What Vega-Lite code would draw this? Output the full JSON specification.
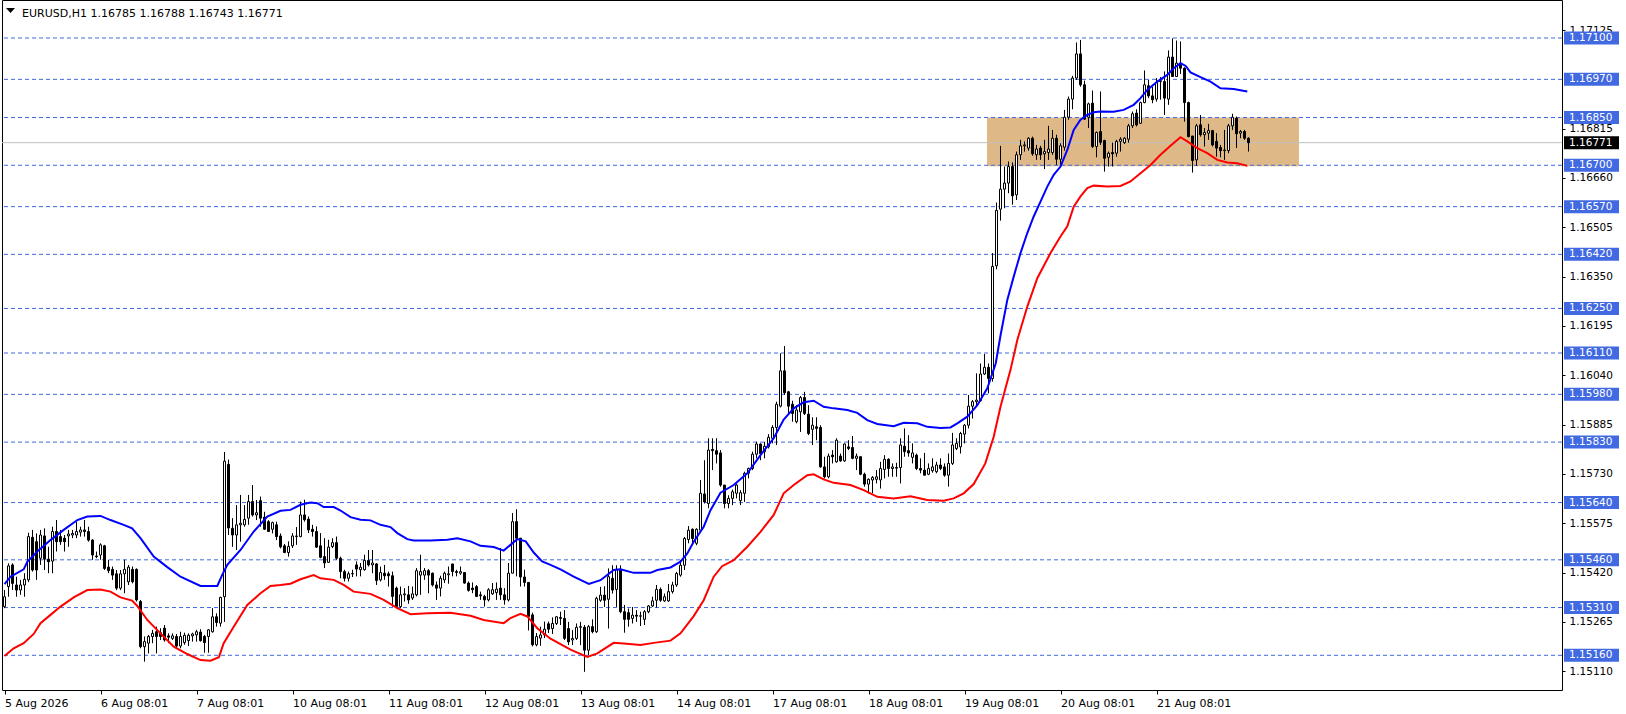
{
"$schema": "https://vega.github.io/schema/vega-lite/v6.json",
"width": 1560, "height": 690,
"autosize": {"type": "none"},
"padding": {"left": 2, "top": 0, "right": 64, "bottom": 24},
"background": "white",
"config": {"view": {"stroke": "#000000", "strokeWidth": 1}, "font": "DejaVu Sans", "scale": {"continuousPadding": 0}},
"datasets": {
"candles": [
{"i":0,"o":1.15313,"h":1.15365,"l":1.15308,"c":1.15344},
{"i":1,"o":1.15376,"h":1.15449,"l":1.15344,"c":1.15441},
{"i":2,"o":1.15444,"h":1.15449,"l":1.15365,"c":1.15386},
{"i":3,"o":1.15381,"h":1.15407,"l":1.15344,"c":1.15365},
{"i":4,"o":1.15365,"h":1.15397,"l":1.1535,"c":1.15381},
{"i":5,"o":1.15381,"h":1.15418,"l":1.15344,"c":1.15399},
{"i":6,"o":1.15397,"h":1.15545,"l":1.1539,"c":1.15533},
{"i":7,"o":1.15531,"h":1.15554,"l":1.15423,"c":1.15428},
{"i":8,"o":1.15517,"h":1.15543,"l":1.15397,"c":1.15428},
{"i":9,"o":1.15465,"h":1.15554,"l":1.15444,"c":1.15538},
{"i":10,"o":1.15535,"h":1.15559,"l":1.15428,"c":1.15462},
{"i":11,"o":1.15462,"h":1.15501,"l":1.15418,"c":1.15454},
{"i":12,"o":1.15456,"h":1.15564,"l":1.15418,"c":1.15549},
{"i":13,"o":1.15549,"h":1.15585,"l":1.15486,"c":1.15517},
{"i":14,"o":1.15533,"h":1.15554,"l":1.15507,"c":1.15517},
{"i":15,"o":1.15528,"h":1.15538,"l":1.15486,"c":1.15517},
{"i":16,"o":1.15535,"h":1.15554,"l":1.15501,"c":1.15541},
{"i":17,"o":1.15538,"h":1.15554,"l":1.15528,"c":1.15543},
{"i":18,"o":1.15538,"h":1.1558,"l":1.15528,"c":1.15549},
{"i":19,"o":1.15547,"h":1.15564,"l":1.15533,"c":1.15554},
{"i":20,"o":1.15554,"h":1.15585,"l":1.15533,"c":1.15549},
{"i":21,"o":1.15549,"h":1.15564,"l":1.15517,"c":1.15522},
{"i":22,"o":1.15522,"h":1.15525,"l":1.1546,"c":1.15475},
{"i":23,"o":1.15472,"h":1.15486,"l":1.15465,"c":1.1547},
{"i":24,"o":1.15475,"h":1.15512,"l":1.1546,"c":1.15507},
{"i":25,"o":1.15504,"h":1.15507,"l":1.15428,"c":1.15433},
{"i":26,"o":1.15437,"h":1.1546,"l":1.15418,"c":1.15426},
{"i":27,"o":1.1543,"h":1.15439,"l":1.15397,"c":1.15412},
{"i":28,"o":1.15416,"h":1.15428,"l":1.15365,"c":1.15371},
{"i":29,"o":1.15371,"h":1.15428,"l":1.15365,"c":1.15416},
{"i":30,"o":1.15416,"h":1.1546,"l":1.15355,"c":1.1543},
{"i":31,"o":1.15391,"h":1.15444,"l":1.15381,"c":1.15437},
{"i":32,"o":1.1543,"h":1.15439,"l":1.15386,"c":1.15391},
{"i":33,"o":1.1543,"h":1.15433,"l":1.15329,"c":1.15334},
{"i":34,"o":1.15329,"h":1.15334,"l":1.15182,"c":1.15187},
{"i":35,"o":1.15187,"h":1.15219,"l":1.1514,"c":1.15203},
{"i":36,"o":1.15198,"h":1.15224,"l":1.15166,"c":1.15219},
{"i":37,"o":1.15219,"h":1.1524,"l":1.15198,"c":1.15229},
{"i":38,"o":1.15234,"h":1.1525,"l":1.15166,"c":1.15219},
{"i":39,"o":1.15231,"h":1.15245,"l":1.15208,"c":1.15219},
{"i":40,"o":1.15245,"h":1.15255,"l":1.15203,"c":1.15208},
{"i":41,"o":1.15221,"h":1.15229,"l":1.15198,"c":1.15217},
{"i":42,"o":1.15213,"h":1.15229,"l":1.15208,"c":1.15221},
{"i":43,"o":1.15219,"h":1.15227,"l":1.15182,"c":1.15189},
{"i":44,"o":1.15189,"h":1.15234,"l":1.15182,"c":1.15219},
{"i":45,"o":1.152,"h":1.15231,"l":1.15193,"c":1.15223},
{"i":46,"o":1.15206,"h":1.15229,"l":1.15189,"c":1.15223},
{"i":47,"o":1.15221,"h":1.15231,"l":1.15203,"c":1.15227},
{"i":48,"o":1.15224,"h":1.1524,"l":1.15203,"c":1.15234},
{"i":49,"o":1.15233,"h":1.15242,"l":1.15203,"c":1.15206},
{"i":50,"o":1.15219,"h":1.15224,"l":1.15168,"c":1.152},
{"i":51,"o":1.15219,"h":1.15242,"l":1.15168,"c":1.1524},
{"i":52,"o":1.15234,"h":1.15308,"l":1.15231,"c":1.15281},
{"i":53,"o":1.15281,"h":1.15292,"l":1.1525,"c":1.15263},
{"i":54,"o":1.15261,"h":1.15344,"l":1.1525,"c":1.15342},
{"i":55,"o":1.15344,"h":1.15799,"l":1.15265,"c":1.1577},
{"i":56,"o":1.1576,"h":1.15775,"l":1.15538,"c":1.1556},
{"i":57,"o":1.15559,"h":1.15591,"l":1.15501,"c":1.15538},
{"i":58,"o":1.15538,"h":1.15632,"l":1.15491,"c":1.1557},
{"i":59,"o":1.1557,"h":1.15664,"l":1.15517,"c":1.15575},
{"i":60,"o":1.1557,"h":1.15632,"l":1.15564,"c":1.15587},
{"i":61,"o":1.15591,"h":1.15664,"l":1.1557,"c":1.15643},
{"i":62,"o":1.15643,"h":1.15695,"l":1.15596,"c":1.15601},
{"i":63,"o":1.15601,"h":1.15648,"l":1.15585,"c":1.15608},
{"i":64,"o":1.15646,"h":1.15659,"l":1.15564,"c":1.15591},
{"i":65,"o":1.15594,"h":1.15611,"l":1.15554,"c":1.15556},
{"i":66,"o":1.1558,"h":1.15585,"l":1.15549,"c":1.15549},
{"i":67,"o":1.15556,"h":1.1558,"l":1.15543,"c":1.15577},
{"i":68,"o":1.1557,"h":1.1558,"l":1.15522,"c":1.15533},
{"i":69,"o":1.15535,"h":1.15543,"l":1.15496,"c":1.15501},
{"i":70,"o":1.15504,"h":1.1551,"l":1.15481,"c":1.15483},
{"i":71,"o":1.15483,"h":1.15518,"l":1.1547,"c":1.15502},
{"i":72,"o":1.15504,"h":1.15544,"l":1.15497,"c":1.15535},
{"i":73,"o":1.15533,"h":1.15563,"l":1.15507,"c":1.15535},
{"i":74,"o":1.15533,"h":1.15643,"l":1.15531,"c":1.15601},
{"i":75,"o":1.15601,"h":1.15649,"l":1.1558,"c":1.15586},
{"i":76,"o":1.15588,"h":1.15596,"l":1.15544,"c":1.15554},
{"i":77,"o":1.15556,"h":1.1557,"l":1.15533,"c":1.15549},
{"i":78,"o":1.15549,"h":1.15565,"l":1.15497,"c":1.155},
{"i":79,"o":1.15504,"h":1.15544,"l":1.15465,"c":1.15468},
{"i":80,"o":1.1547,"h":1.15528,"l":1.15434,"c":1.1545},
{"i":81,"o":1.15452,"h":1.15523,"l":1.1545,"c":1.155},
{"i":82,"o":1.15502,"h":1.15528,"l":1.15497,"c":1.15514},
{"i":83,"o":1.15514,"h":1.15533,"l":1.1546,"c":1.15465},
{"i":84,"o":1.15465,"h":1.1547,"l":1.15402,"c":1.15423},
{"i":85,"o":1.15423,"h":1.15429,"l":1.15392,"c":1.15402},
{"i":86,"o":1.15402,"h":1.15423,"l":1.15392,"c":1.15416},
{"i":87,"o":1.15416,"h":1.15429,"l":1.15406,"c":1.15417},
{"i":88,"o":1.15444,"h":1.15455,"l":1.15408,"c":1.15431},
{"i":89,"o":1.15429,"h":1.1545,"l":1.15408,"c":1.15437},
{"i":90,"o":1.15429,"h":1.15476,"l":1.15426,"c":1.15458},
{"i":91,"o":1.15458,"h":1.15491,"l":1.15439,"c":1.15444},
{"i":92,"o":1.15444,"h":1.15491,"l":1.15418,"c":1.1545},
{"i":93,"o":1.15447,"h":1.1545,"l":1.15381,"c":1.15395},
{"i":94,"o":1.15397,"h":1.15439,"l":1.15392,"c":1.1542},
{"i":95,"o":1.15418,"h":1.15444,"l":1.15397,"c":1.1541},
{"i":96,"o":1.15416,"h":1.15423,"l":1.15376,"c":1.1541},
{"i":97,"o":1.1541,"h":1.15423,"l":1.15313,"c":1.15345},
{"i":98,"o":1.15371,"h":1.15376,"l":1.15308,"c":1.15313},
{"i":99,"o":1.15313,"h":1.15376,"l":1.15308,"c":1.1535},
{"i":100,"o":1.1535,"h":1.15371,"l":1.15329,"c":1.15353},
{"i":101,"o":1.1535,"h":1.15378,"l":1.15322,"c":1.15334},
{"i":102,"o":1.1534,"h":1.15376,"l":1.15334,"c":1.15353},
{"i":103,"o":1.1535,"h":1.15434,"l":1.15345,"c":1.15426},
{"i":104,"o":1.15412,"h":1.15476,"l":1.1535,"c":1.15423},
{"i":105,"o":1.15412,"h":1.15434,"l":1.15397,"c":1.15426},
{"i":106,"o":1.15426,"h":1.15431,"l":1.15355,"c":1.15412},
{"i":107,"o":1.15418,"h":1.1542,"l":1.15376,"c":1.15381},
{"i":108,"o":1.15381,"h":1.15392,"l":1.15334,"c":1.15371},
{"i":109,"o":1.15371,"h":1.1541,"l":1.15345,"c":1.15402},
{"i":110,"o":1.15397,"h":1.15423,"l":1.15387,"c":1.15418},
{"i":111,"o":1.15413,"h":1.15439,"l":1.15385,"c":1.15416},
{"i":112,"o":1.15447,"h":1.15447,"l":1.15408,"c":1.15423},
{"i":113,"o":1.15423,"h":1.15429,"l":1.15408,"c":1.1542},
{"i":114,"o":1.15418,"h":1.15439,"l":1.15413,"c":1.15423},
{"i":115,"o":1.1542,"h":1.1542,"l":1.15385,"c":1.15387},
{"i":116,"o":1.15387,"h":1.15392,"l":1.1536,"c":1.15364},
{"i":117,"o":1.15371,"h":1.15389,"l":1.15355,"c":1.15366},
{"i":118,"o":1.15376,"h":1.15381,"l":1.15343,"c":1.15345},
{"i":119,"o":1.1535,"h":1.1536,"l":1.15334,"c":1.15347},
{"i":120,"o":1.15345,"h":1.1535,"l":1.15313,"c":1.15334},
{"i":121,"o":1.15334,"h":1.15371,"l":1.15329,"c":1.15366},
{"i":122,"o":1.15353,"h":1.15387,"l":1.1535,"c":1.15366},
{"i":123,"o":1.15357,"h":1.15389,"l":1.15334,"c":1.15368},
{"i":124,"o":1.15371,"h":1.15497,"l":1.15334,"c":1.1535},
{"i":125,"o":1.1535,"h":1.15371,"l":1.15319,"c":1.15334},
{"i":126,"o":1.15334,"h":1.1545,"l":1.15329,"c":1.15418},
{"i":127,"o":1.15418,"h":1.15607,"l":1.15418,"c":1.1558},
{"i":128,"o":1.1558,"h":1.15619,"l":1.15408,"c":1.15528},
{"i":129,"o":1.15528,"h":1.15528,"l":1.15376,"c":1.15406},
{"i":130,"o":1.15406,"h":1.15429,"l":1.15376,"c":1.15389},
{"i":131,"o":1.15389,"h":1.15389,"l":1.15238,"c":1.15282},
{"i":132,"o":1.15287,"h":1.15294,"l":1.15188,"c":1.15193},
{"i":133,"o":1.15193,"h":1.1523,"l":1.15188,"c":1.15219},
{"i":134,"o":1.15214,"h":1.1525,"l":1.1519,"c":1.15224},
{"i":135,"o":1.15224,"h":1.15266,"l":1.15214,"c":1.15242},
{"i":136,"o":1.15259,"h":1.15266,"l":1.1523,"c":1.15242},
{"i":137,"o":1.15244,"h":1.15279,"l":1.15227,"c":1.1526},
{"i":138,"o":1.1526,"h":1.15283,"l":1.15255,"c":1.15281},
{"i":139,"o":1.15279,"h":1.15297,"l":1.15255,"c":1.15276},
{"i":140,"o":1.15276,"h":1.15302,"l":1.15208,"c":1.15213},
{"i":141,"o":1.15244,"h":1.15265,"l":1.15192,"c":1.15202},
{"i":142,"o":1.15208,"h":1.15239,"l":1.15192,"c":1.15213},
{"i":143,"o":1.15213,"h":1.1526,"l":1.15208,"c":1.15248},
{"i":144,"o":1.15248,"h":1.15265,"l":1.15192,"c":1.1525},
{"i":145,"o":1.15248,"h":1.15255,"l":1.15108,"c":1.15176},
{"i":146,"o":1.15176,"h":1.15255,"l":1.15161,"c":1.1525},
{"i":147,"o":1.1525,"h":1.15273,"l":1.15229,"c":1.15234},
{"i":148,"o":1.15234,"h":1.15344,"l":1.1523,"c":1.15339},
{"i":149,"o":1.15333,"h":1.15375,"l":1.15328,"c":1.15349},
{"i":150,"o":1.15349,"h":1.15377,"l":1.15312,"c":1.15333},
{"i":151,"o":1.15336,"h":1.15433,"l":1.15244,"c":1.15407},
{"i":152,"o":1.15402,"h":1.15443,"l":1.15354,"c":1.15365},
{"i":153,"o":1.15367,"h":1.15443,"l":1.15312,"c":1.1543},
{"i":154,"o":1.1543,"h":1.15443,"l":1.15292,"c":1.15297},
{"i":155,"o":1.15297,"h":1.15318,"l":1.15231,"c":1.15273},
{"i":156,"o":1.15294,"h":1.15307,"l":1.1525,"c":1.15273},
{"i":157,"o":1.15276,"h":1.15312,"l":1.1526,"c":1.15286},
{"i":158,"o":1.15286,"h":1.15302,"l":1.15265,"c":1.15283},
{"i":159,"o":1.15283,"h":1.15297,"l":1.15252,"c":1.15284},
{"i":160,"o":1.15273,"h":1.15302,"l":1.15255,"c":1.15297},
{"i":161,"o":1.15297,"h":1.15318,"l":1.15292,"c":1.15315},
{"i":162,"o":1.15315,"h":1.15344,"l":1.15312,"c":1.15331},
{"i":163,"o":1.15333,"h":1.15381,"l":1.1531,"c":1.15367},
{"i":164,"o":1.15367,"h":1.15373,"l":1.15328,"c":1.15333},
{"i":165,"o":1.15331,"h":1.15354,"l":1.15328,"c":1.15344},
{"i":166,"o":1.15331,"h":1.15384,"l":1.15328,"c":1.1536},
{"i":167,"o":1.1536,"h":1.15391,"l":1.15354,"c":1.15381},
{"i":168,"o":1.15381,"h":1.15422,"l":1.15375,"c":1.15417},
{"i":169,"o":1.15412,"h":1.15459,"l":1.15407,"c":1.15443},
{"i":170,"o":1.15443,"h":1.15532,"l":1.15428,"c":1.15527},
{"i":171,"o":1.15524,"h":1.15566,"l":1.15512,"c":1.15553},
{"i":172,"o":1.15556,"h":1.15559,"l":1.15512,"c":1.15527},
{"i":173,"o":1.15512,"h":1.15559,"l":1.15506,"c":1.15556},
{"i":174,"o":1.15553,"h":1.15711,"l":1.15548,"c":1.15669},
{"i":175,"o":1.15667,"h":1.15773,"l":1.15637,"c":1.15642},
{"i":176,"o":1.15637,"h":1.15842,"l":1.15622,"c":1.15805},
{"i":177,"o":1.15807,"h":1.15842,"l":1.15742,"c":1.15803},
{"i":178,"o":1.15803,"h":1.15842,"l":1.15763,"c":1.15792},
{"i":179,"o":1.15796,"h":1.15805,"l":1.1569,"c":1.15695},
{"i":180,"o":1.15695,"h":1.15695,"l":1.15622,"c":1.15637},
{"i":181,"o":1.15637,"h":1.15663,"l":1.15622,"c":1.15653},
{"i":182,"o":1.15653,"h":1.15681,"l":1.15632,"c":1.15674},
{"i":183,"o":1.15669,"h":1.157,"l":1.15653,"c":1.15695},
{"i":184,"o":1.15646,"h":1.15679,"l":1.15632,"c":1.15671},
{"i":185,"o":1.15669,"h":1.15737,"l":1.15642,"c":1.15732},
{"i":186,"o":1.15732,"h":1.1575,"l":1.15716,"c":1.15747},
{"i":187,"o":1.15747,"h":1.158,"l":1.15742,"c":1.15792},
{"i":188,"o":1.15792,"h":1.15831,"l":1.15779,"c":1.15824},
{"i":189,"o":1.15824,"h":1.15826,"l":1.15773,"c":1.15794},
{"i":190,"o":1.158,"h":1.15831,"l":1.15779,"c":1.15817},
{"i":191,"o":1.15815,"h":1.15855,"l":1.1581,"c":1.15845},
{"i":192,"o":1.15842,"h":1.15883,"l":1.15826,"c":1.15876},
{"i":193,"o":1.15876,"h":1.15957,"l":1.15821,"c":1.15949},
{"i":194,"o":1.15943,"h":1.16109,"l":1.15939,"c":1.16054},
{"i":195,"o":1.16054,"h":1.16132,"l":1.15978,"c":1.15985},
{"i":196,"o":1.15988,"h":1.15991,"l":1.15918,"c":1.15943},
{"i":197,"o":1.15949,"h":1.1596,"l":1.15894,"c":1.1592},
{"i":198,"o":1.15894,"h":1.15946,"l":1.15889,"c":1.15931},
{"i":199,"o":1.15925,"h":1.15975,"l":1.15862,"c":1.1597},
{"i":200,"o":1.1597,"h":1.15988,"l":1.15915,"c":1.1592},
{"i":201,"o":1.15918,"h":1.15946,"l":1.15852,"c":1.15857},
{"i":202,"o":1.1587,"h":1.15908,"l":1.15821,"c":1.15883},
{"i":203,"o":1.15878,"h":1.15908,"l":1.15836,"c":1.15873},
{"i":204,"o":1.15876,"h":1.15883,"l":1.1575,"c":1.15752},
{"i":205,"o":1.15752,"h":1.15784,"l":1.15716,"c":1.15721},
{"i":206,"o":1.15721,"h":1.15794,"l":1.15716,"c":1.15786},
{"i":207,"o":1.15789,"h":1.15805,"l":1.15763,"c":1.15784},
{"i":208,"o":1.15768,"h":1.15842,"l":1.15765,"c":1.15836},
{"i":209,"o":1.15786,"h":1.15794,"l":1.15768,"c":1.15771},
{"i":210,"o":1.15771,"h":1.15826,"l":1.15768,"c":1.15824},
{"i":211,"o":1.15815,"h":1.15836,"l":1.15805,"c":1.1581},
{"i":212,"o":1.15813,"h":1.15849,"l":1.15776,"c":1.15779},
{"i":213,"o":1.15779,"h":1.15794,"l":1.15742,"c":1.15786},
{"i":214,"o":1.15784,"h":1.15786,"l":1.15726,"c":1.15729},
{"i":215,"o":1.15729,"h":1.15734,"l":1.1569,"c":1.15698},
{"i":216,"o":1.15698,"h":1.15716,"l":1.15669,"c":1.15713},
{"i":217,"o":1.15711,"h":1.15723,"l":1.15669,"c":1.15719},
{"i":218,"o":1.15713,"h":1.15742,"l":1.157,"c":1.15721},
{"i":219,"o":1.15711,"h":1.15768,"l":1.15684,"c":1.15747},
{"i":220,"o":1.15744,"h":1.15789,"l":1.15716,"c":1.15776},
{"i":221,"o":1.15776,"h":1.15779,"l":1.15721,"c":1.15747},
{"i":222,"o":1.15747,"h":1.15763,"l":1.15721,"c":1.15752},
{"i":223,"o":1.15748,"h":1.15765,"l":1.15721,"c":1.1575},
{"i":224,"o":1.1575,"h":1.15842,"l":1.157,"c":1.15821},
{"i":225,"o":1.15817,"h":1.15873,"l":1.15784,"c":1.158},
{"i":226,"o":1.15803,"h":1.15852,"l":1.15784,"c":1.15796},
{"i":227,"o":1.15782,"h":1.15826,"l":1.15763,"c":1.15796},
{"i":228,"o":1.15789,"h":1.15794,"l":1.15742,"c":1.15747},
{"i":229,"o":1.15747,"h":1.15779,"l":1.15732,"c":1.15742},
{"i":230,"o":1.15742,"h":1.15796,"l":1.15726,"c":1.15726},
{"i":231,"o":1.15729,"h":1.15763,"l":1.15726,"c":1.15747},
{"i":232,"o":1.1574,"h":1.15779,"l":1.15734,"c":1.15752},
{"i":233,"o":1.15737,"h":1.15768,"l":1.15732,"c":1.15758},
{"i":234,"o":1.15758,"h":1.15779,"l":1.15742,"c":1.15747},
{"i":235,"o":1.15752,"h":1.15763,"l":1.15721,"c":1.15726},
{"i":236,"o":1.15726,"h":1.15794,"l":1.1569,"c":1.15763},
{"i":237,"o":1.15763,"h":1.15859,"l":1.15758,"c":1.15821},
{"i":238,"o":1.1581,"h":1.15842,"l":1.15805,"c":1.15826},
{"i":239,"o":1.15815,"h":1.15862,"l":1.15794,"c":1.15857},
{"i":240,"o":1.15855,"h":1.15887,"l":1.15826,"c":1.15883},
{"i":241,"o":1.15883,"h":1.15978,"l":1.15873,"c":1.15943},
{"i":242,"o":1.15943,"h":1.15962,"l":1.15904,"c":1.15957},
{"i":243,"o":1.15957,"h":1.16046,"l":1.15946,"c":1.15962},
{"i":244,"o":1.1596,"h":1.16077,"l":1.15957,"c":1.16044},
{"i":245,"o":1.16044,"h":1.16107,"l":1.16041,"c":1.16065},
{"i":246,"o":1.16065,"h":1.16077,"l":1.15983,"c":1.1603},
{"i":247,"o":1.1603,"h":1.16424,"l":1.1602,"c":1.16382},
{"i":248,"o":1.16384,"h":1.16583,"l":1.16373,"c":1.16558},
{"i":249,"o":1.16562,"h":1.16761,"l":1.16526,"c":1.16625},
{"i":250,"o":1.16625,"h":1.16696,"l":1.16565,"c":1.16644},
{"i":251,"o":1.16644,"h":1.16712,"l":1.16612,"c":1.16696},
{"i":252,"o":1.16696,"h":1.16709,"l":1.16576,"c":1.16604},
{"i":253,"o":1.16607,"h":1.16743,"l":1.16591,"c":1.16733},
{"i":254,"o":1.16733,"h":1.1678,"l":1.16717,"c":1.16761},
{"i":255,"o":1.16761,"h":1.16775,"l":1.16743,"c":1.16764},
{"i":256,"o":1.16754,"h":1.16788,"l":1.16746,"c":1.16785},
{"i":257,"o":1.16785,"h":1.1679,"l":1.1673,"c":1.16736},
{"i":258,"o":1.16733,"h":1.16764,"l":1.16717,"c":1.16751},
{"i":259,"o":1.16754,"h":1.16761,"l":1.16717,"c":1.16733},
{"i":260,"o":1.16736,"h":1.1678,"l":1.16688,"c":1.16743},
{"i":261,"o":1.1674,"h":1.16824,"l":1.16717,"c":1.16751},
{"i":262,"o":1.1674,"h":1.16811,"l":1.16733,"c":1.16785},
{"i":263,"o":1.16785,"h":1.16796,"l":1.16701,"c":1.16719},
{"i":264,"o":1.16719,"h":1.16769,"l":1.16698,"c":1.16761},
{"i":265,"o":1.16757,"h":1.16874,"l":1.16746,"c":1.16851},
{"i":266,"o":1.16851,"h":1.16916,"l":1.16843,"c":1.16908},
{"i":267,"o":1.16908,"h":1.16981,"l":1.16876,"c":1.16974},
{"i":268,"o":1.16974,"h":1.17086,"l":1.16968,"c":1.1705},
{"i":269,"o":1.1705,"h":1.17094,"l":1.16947,"c":1.16953},
{"i":270,"o":1.16953,"h":1.16966,"l":1.16843,"c":1.16845},
{"i":271,"o":1.16851,"h":1.16897,"l":1.16817,"c":1.16893},
{"i":272,"o":1.16895,"h":1.16935,"l":1.16754,"c":1.16759},
{"i":273,"o":1.16759,"h":1.16806,"l":1.16725,"c":1.16803},
{"i":274,"o":1.16806,"h":1.16932,"l":1.16764,"c":1.16772},
{"i":275,"o":1.16778,"h":1.1678,"l":1.1668,"c":1.16722},
{"i":276,"o":1.16725,"h":1.16743,"l":1.16696,"c":1.16738},
{"i":277,"o":1.1674,"h":1.16771,"l":1.16696,"c":1.16736},
{"i":278,"o":1.16738,"h":1.1678,"l":1.16727,"c":1.16775},
{"i":279,"o":1.16775,"h":1.16788,"l":1.16743,"c":1.16782},
{"i":280,"o":1.16771,"h":1.16788,"l":1.16767,"c":1.16785},
{"i":281,"o":1.16782,"h":1.1683,"l":1.16771,"c":1.16824},
{"i":282,"o":1.16824,"h":1.16869,"l":1.16817,"c":1.16862},
{"i":283,"o":1.16864,"h":1.16876,"l":1.16822,"c":1.16827},
{"i":284,"o":1.16832,"h":1.169,"l":1.1683,"c":1.16897},
{"i":285,"o":1.16897,"h":1.16998,"l":1.16895,"c":1.16953},
{"i":286,"o":1.1695,"h":1.16968,"l":1.16911,"c":1.16918},
{"i":287,"o":1.16918,"h":1.16947,"l":1.16895,"c":1.16906},
{"i":288,"o":1.16908,"h":1.16974,"l":1.169,"c":1.1696},
{"i":289,"o":1.16963,"h":1.16977,"l":1.16906,"c":1.16966},
{"i":290,"o":1.16963,"h":1.16995,"l":1.16858,"c":1.16911},
{"i":291,"o":1.16908,"h":1.17061,"l":1.1689,"c":1.1704},
{"i":292,"o":1.1704,"h":1.17099,"l":1.16979,"c":1.16979},
{"i":293,"o":1.16979,"h":1.17092,"l":1.16979,"c":1.17021},
{"i":294,"o":1.17021,"h":1.17089,"l":1.16987,"c":1.17005},
{"i":295,"o":1.17005,"h":1.17008,"l":1.16837,"c":1.16897},
{"i":296,"o":1.16897,"h":1.169,"l":1.16788,"c":1.1679},
{"i":297,"o":1.16792,"h":1.16792,"l":1.16677,"c":1.16715},
{"i":298,"o":1.16717,"h":1.1683,"l":1.16698,"c":1.16824},
{"i":299,"o":1.16827,"h":1.16858,"l":1.1679,"c":1.16796},
{"i":300,"o":1.16796,"h":1.16817,"l":1.16759,"c":1.16803},
{"i":301,"o":1.16801,"h":1.1683,"l":1.1678,"c":1.16809},
{"i":302,"o":1.16809,"h":1.16811,"l":1.16759,"c":1.16764},
{"i":303,"o":1.16775,"h":1.16801,"l":1.16727,"c":1.16754},
{"i":304,"o":1.16756,"h":1.16764,"l":1.16725,"c":1.16746},
{"i":305,"o":1.16746,"h":1.16811,"l":1.16717,"c":1.16748},
{"i":306,"o":1.16746,"h":1.1683,"l":1.16738,"c":1.16824},
{"i":307,"o":1.16824,"h":1.16862,"l":1.16811,"c":1.16851},
{"i":308,"o":1.16848,"h":1.16853,"l":1.16754,"c":1.16799},
{"i":309,"o":1.16801,"h":1.16811,"l":1.16785,"c":1.16806},
{"i":310,"o":1.16806,"h":1.16811,"l":1.1678,"c":1.16785},
{"i":311,"o":1.16785,"h":1.16788,"l":1.16743,"c":1.16771}
],
"lines": [
{"i":0,"v":1.15384,"s":"upper"},{"i":1.5,"v":1.15407,"s":"upper"},{"i":4.8,"v":1.1543,"s":"upper"},{"i":5.7,"v":1.15454,"s":"upper"},{"i":8.2,"v":1.15486,"s":"upper"},{"i":11.5,"v":1.15522,"s":"upper"},{"i":14.8,"v":1.15554,"s":"upper"},{"i":18.2,"v":1.15585,"s":"upper"},{"i":20.7,"v":1.15596,"s":"upper"},{"i":24,"v":1.15598,"s":"upper"},{"i":26.5,"v":1.15585,"s":"upper"},{"i":29.8,"v":1.1557,"s":"upper"},{"i":31.9,"v":1.15559,"s":"upper"},{"i":34,"v":1.15528,"s":"upper"},{"i":37.3,"v":1.1547,"s":"upper"},{"i":40.7,"v":1.15437,"s":"upper"},{"i":44,"v":1.15407,"s":"upper"},{"i":49,"v":1.15378,"s":"upper"},{"i":53.2,"v":1.15378,"s":"upper"},{"i":54.4,"v":1.15412,"s":"upper"},{"i":55.7,"v":1.15444,"s":"upper"},{"i":59,"v":1.15491,"s":"upper"},{"i":62.3,"v":1.15549,"s":"upper"},{"i":65.7,"v":1.15596,"s":"upper"},{"i":69,"v":1.15614,"s":"upper"},{"i":71.5,"v":1.15617,"s":"upper"},{"i":74,"v":1.15633,"s":"upper"},{"i":76.5,"v":1.1564,"s":"upper"},{"i":78.2,"v":1.15638,"s":"upper"},{"i":79.8,"v":1.15626,"s":"upper"},{"i":82.3,"v":1.15626,"s":"upper"},{"i":84,"v":1.15615,"s":"upper"},{"i":86.5,"v":1.15594,"s":"upper"},{"i":89,"v":1.15586,"s":"upper"},{"i":91.5,"v":1.15584,"s":"upper"},{"i":94,"v":1.1557,"s":"upper"},{"i":96.5,"v":1.15563,"s":"upper"},{"i":98.2,"v":1.15544,"s":"upper"},{"i":100.7,"v":1.15525,"s":"upper"},{"i":102.3,"v":1.15521,"s":"upper"},{"i":106.5,"v":1.15521,"s":"upper"},{"i":110.7,"v":1.15523,"s":"upper"},{"i":113.2,"v":1.15528,"s":"upper"},{"i":116.5,"v":1.15518,"s":"upper"},{"i":119,"v":1.15504,"s":"upper"},{"i":122.3,"v":1.155,"s":"upper"},{"i":124.8,"v":1.15489,"s":"upper"},{"i":126.5,"v":1.15507,"s":"upper"},{"i":128.2,"v":1.15525,"s":"upper"},{"i":130.3,"v":1.15518,"s":"upper"},{"i":132.3,"v":1.15483,"s":"upper"},{"i":134.4,"v":1.15455,"s":"upper"},{"i":136.5,"v":1.15444,"s":"upper"},{"i":139,"v":1.1543,"s":"upper"},{"i":142.3,"v":1.15407,"s":"upper"},{"i":146.1,"v":1.15384,"s":"upper"},{"i":149,"v":1.15396,"s":"upper"},{"i":152.3,"v":1.15428,"s":"upper"},{"i":154,"v":1.1543,"s":"upper"},{"i":157.3,"v":1.15419,"s":"upper"},{"i":161.5,"v":1.15419,"s":"upper"},{"i":163.2,"v":1.15428,"s":"upper"},{"i":166.5,"v":1.15436,"s":"upper"},{"i":169,"v":1.15454,"s":"upper"},{"i":170.7,"v":1.1548,"s":"upper"},{"i":172.3,"v":1.15517,"s":"upper"},{"i":174.8,"v":1.15564,"s":"upper"},{"i":176.5,"v":1.15616,"s":"upper"},{"i":179,"v":1.15671,"s":"upper"},{"i":182.3,"v":1.15695,"s":"upper"},{"i":185.7,"v":1.15732,"s":"upper"},{"i":189,"v":1.15789,"s":"upper"},{"i":192.3,"v":1.15842,"s":"upper"},{"i":194.8,"v":1.15901,"s":"upper"},{"i":197.3,"v":1.15936,"s":"upper"},{"i":199.8,"v":1.15955,"s":"upper"},{"i":202.3,"v":1.1596,"s":"upper"},{"i":204.8,"v":1.15941,"s":"upper"},{"i":207.3,"v":1.15936,"s":"upper"},{"i":210.7,"v":1.15931,"s":"upper"},{"i":213.2,"v":1.15922,"s":"upper"},{"i":215.7,"v":1.15899,"s":"upper"},{"i":218.2,"v":1.15887,"s":"upper"},{"i":222.3,"v":1.1588,"s":"upper"},{"i":224.8,"v":1.15891,"s":"upper"},{"i":228.2,"v":1.15889,"s":"upper"},{"i":230.7,"v":1.15878,"s":"upper"},{"i":234,"v":1.15874,"s":"upper"},{"i":236.5,"v":1.15876,"s":"upper"},{"i":238.2,"v":1.15889,"s":"upper"},{"i":240.7,"v":1.1591,"s":"upper"},{"i":243.2,"v":1.15946,"s":"upper"},{"i":245.7,"v":1.15999,"s":"upper"},{"i":247.8,"v":1.16077,"s":"upper"},{"i":249,"v":1.16165,"s":"upper"},{"i":250.7,"v":1.16277,"s":"upper"},{"i":252.3,"v":1.1635,"s":"upper"},{"i":254,"v":1.16424,"s":"upper"},{"i":255.7,"v":1.16487,"s":"upper"},{"i":257.3,"v":1.16539,"s":"upper"},{"i":259,"v":1.16586,"s":"upper"},{"i":260.7,"v":1.16633,"s":"upper"},{"i":262.3,"v":1.1667,"s":"upper"},{"i":264,"v":1.16696,"s":"upper"},{"i":265.7,"v":1.16748,"s":"upper"},{"i":267.3,"v":1.16811,"s":"upper"},{"i":269,"v":1.16843,"s":"upper"},{"i":270.7,"v":1.16858,"s":"upper"},{"i":272.3,"v":1.16867,"s":"upper"},{"i":274,"v":1.16869,"s":"upper"},{"i":277.3,"v":1.16868,"s":"upper"},{"i":279.8,"v":1.16874,"s":"upper"},{"i":282.3,"v":1.1689,"s":"upper"},{"i":284,"v":1.16911,"s":"upper"},{"i":285.7,"v":1.16937,"s":"upper"},{"i":288.2,"v":1.16963,"s":"upper"},{"i":290.7,"v":1.16984,"s":"upper"},{"i":292.3,"v":1.17005,"s":"upper"},{"i":294,"v":1.17021,"s":"upper"},{"i":295.3,"v":1.17012,"s":"upper"},{"i":296.5,"v":1.16992,"s":"upper"},{"i":299,"v":1.16977,"s":"upper"},{"i":301.5,"v":1.16963,"s":"upper"},{"i":304,"v":1.16942,"s":"upper"},{"i":307.3,"v":1.1694,"s":"upper"},{"i":310.7,"v":1.16932,"s":"upper"},
{"i":0,"v":1.15158,"s":"lower"},{"i":2.3,"v":1.15182,"s":"lower"},{"i":4.8,"v":1.15198,"s":"lower"},{"i":7.3,"v":1.15227,"s":"lower"},{"i":9,"v":1.15261,"s":"lower"},{"i":11.5,"v":1.15287,"s":"lower"},{"i":14,"v":1.15313,"s":"lower"},{"i":17.3,"v":1.15342,"s":"lower"},{"i":20.7,"v":1.15365,"s":"lower"},{"i":24,"v":1.15367,"s":"lower"},{"i":26.5,"v":1.1536,"s":"lower"},{"i":29,"v":1.15342,"s":"lower"},{"i":31.9,"v":1.15332,"s":"lower"},{"i":33.2,"v":1.15315,"s":"lower"},{"i":35.7,"v":1.15271,"s":"lower"},{"i":39,"v":1.15229,"s":"lower"},{"i":42.3,"v":1.15187,"s":"lower"},{"i":45.7,"v":1.15164,"s":"lower"},{"i":49,"v":1.15145,"s":"lower"},{"i":51.5,"v":1.15143,"s":"lower"},{"i":53.6,"v":1.15154,"s":"lower"},{"i":54.8,"v":1.15198,"s":"lower"},{"i":57.3,"v":1.1525,"s":"lower"},{"i":60.7,"v":1.15318,"s":"lower"},{"i":64,"v":1.15355,"s":"lower"},{"i":66.5,"v":1.15378,"s":"lower"},{"i":69,"v":1.15381,"s":"lower"},{"i":71.5,"v":1.15385,"s":"lower"},{"i":74,"v":1.15399,"s":"lower"},{"i":77.3,"v":1.15412,"s":"lower"},{"i":79,"v":1.15402,"s":"lower"},{"i":82.3,"v":1.15397,"s":"lower"},{"i":84.8,"v":1.15381,"s":"lower"},{"i":87.3,"v":1.1536,"s":"lower"},{"i":91.5,"v":1.15353,"s":"lower"},{"i":94.8,"v":1.15334,"s":"lower"},{"i":98.2,"v":1.15308,"s":"lower"},{"i":101.5,"v":1.15289,"s":"lower"},{"i":105.7,"v":1.15292,"s":"lower"},{"i":111.5,"v":1.15294,"s":"lower"},{"i":116.5,"v":1.15284,"s":"lower"},{"i":119.8,"v":1.15271,"s":"lower"},{"i":124.8,"v":1.15261,"s":"lower"},{"i":126.5,"v":1.15277,"s":"lower"},{"i":129,"v":1.1529,"s":"lower"},{"i":130.7,"v":1.15282,"s":"lower"},{"i":133.2,"v":1.15245,"s":"lower"},{"i":136.5,"v":1.15212,"s":"lower"},{"i":141.5,"v":1.15178,"s":"lower"},{"i":145.7,"v":1.15155,"s":"lower"},{"i":148.2,"v":1.15166,"s":"lower"},{"i":152.3,"v":1.15199,"s":"lower"},{"i":154.8,"v":1.15197,"s":"lower"},{"i":159,"v":1.15192,"s":"lower"},{"i":162.3,"v":1.15199,"s":"lower"},{"i":166.5,"v":1.15206,"s":"lower"},{"i":169,"v":1.15229,"s":"lower"},{"i":172.3,"v":1.15283,"s":"lower"},{"i":174.8,"v":1.15333,"s":"lower"},{"i":177.3,"v":1.15407,"s":"lower"},{"i":179.4,"v":1.1544,"s":"lower"},{"i":182.3,"v":1.15459,"s":"lower"},{"i":185.7,"v":1.15501,"s":"lower"},{"i":189,"v":1.15548,"s":"lower"},{"i":192.3,"v":1.15601,"s":"lower"},{"i":194.8,"v":1.15669,"s":"lower"},{"i":197.3,"v":1.15695,"s":"lower"},{"i":200.7,"v":1.15726,"s":"lower"},{"i":202.3,"v":1.15729,"s":"lower"},{"i":204.8,"v":1.15713,"s":"lower"},{"i":207.3,"v":1.15702,"s":"lower"},{"i":211.5,"v":1.15695,"s":"lower"},{"i":214.8,"v":1.15679,"s":"lower"},{"i":218.2,"v":1.15658,"s":"lower"},{"i":222.3,"v":1.15653,"s":"lower"},{"i":226.5,"v":1.1566,"s":"lower"},{"i":230.7,"v":1.15648,"s":"lower"},{"i":234.8,"v":1.15646,"s":"lower"},{"i":237.3,"v":1.15653,"s":"lower"},{"i":239.8,"v":1.15669,"s":"lower"},{"i":242.3,"v":1.15698,"s":"lower"},{"i":245.2,"v":1.15763,"s":"lower"},{"i":247.3,"v":1.15847,"s":"lower"},{"i":249,"v":1.15941,"s":"lower"},{"i":251.5,"v":1.16057,"s":"lower"},{"i":253.2,"v":1.16151,"s":"lower"},{"i":255.7,"v":1.16256,"s":"lower"},{"i":258.2,"v":1.16345,"s":"lower"},{"i":261.5,"v":1.16424,"s":"lower"},{"i":264,"v":1.16476,"s":"lower"},{"i":265.7,"v":1.16508,"s":"lower"},{"i":267.3,"v":1.1657,"s":"lower"},{"i":269,"v":1.16602,"s":"lower"},{"i":270.7,"v":1.16628,"s":"lower"},{"i":272.3,"v":1.16636,"s":"lower"},{"i":275.7,"v":1.16633,"s":"lower"},{"i":279,"v":1.16635,"s":"lower"},{"i":281.5,"v":1.16649,"s":"lower"},{"i":284,"v":1.16675,"s":"lower"},{"i":286.5,"v":1.16701,"s":"lower"},{"i":289,"v":1.16733,"s":"lower"},{"i":291.5,"v":1.16761,"s":"lower"},{"i":294,"v":1.16788,"s":"lower"},{"i":295.7,"v":1.16775,"s":"lower"},{"i":298.2,"v":1.16754,"s":"lower"},{"i":300.7,"v":1.16738,"s":"lower"},{"i":303.2,"v":1.16717,"s":"lower"},{"i":305.7,"v":1.16709,"s":"lower"},{"i":308.2,"v":1.16706,"s":"lower"},{"i":310.7,"v":1.16698,"s":"lower"}
],
"levels": [{"level":1.171},{"level":1.1697},{"level":1.1685},{"level":1.167},{"level":1.1657},{"level":1.1642},{"level":1.1625},{"level":1.1611},{"level":1.1598},{"level":1.1583},{"level":1.1564},{"level":1.1546},{"level":1.1531},{"level":1.1516}],
"zone": [{"t1":245.625,"t2":323.625,"p1":1.1685,"p2":1.16697}],
"last": [{"price":1.16771}]
},
"resolve": {"axis": {"x": "independent", "y": "independent"}},
"layer": [
{"data":{"name":"zone"},"mark":{"type":"rect","color":"#DEB887"},
 "encoding":{
  "x":{"field":"t1","type":"quantitative","scale":{"domain":[-0.625,389.375],"nice":false,"zero":false,"padding":0},"axis":null},
  "x2":{"field":"t2"},
  "y":{"field":"p1","type":"quantitative","scale":{"domain":[1.150509,1.172194],"nice":false,"zero":false},"axis":null},
  "y2":{"field":"p2"}}},
{"data":{"name":"levels"},"mark":{"type":"rule","color":"#4169E1","strokeWidth":1,"strokeDash":[4,3]},
 "encoding":{"y":{"field":"level","type":"quantitative","scale":{"domain":[1.150509,1.172194],"nice":false,"zero":false},"axis":null}}},
{"data":{"name":"last"},"mark":{"type":"rule","color":"#C0C0C0","strokeWidth":1},
 "encoding":{"y":{"field":"price","type":"quantitative","scale":{"domain":[1.150509,1.172194],"nice":false,"zero":false},"axis":null}}},
{"data":{"name":"candles"},"mark":{"type":"rule","color":"#000000","strokeWidth":1},
 "encoding":{
  "x":{"field":"i","type":"quantitative","scale":{"domain":[-0.625,389.375],"nice":false,"zero":false,"padding":0},"axis":{"orient":"bottom","values":[0,24,48,72,96,120,144,168,192,216,240,264,288],"labelExpr":"['5 Aug 2026','6 Aug 08:01','7 Aug 08:01','10 Aug 08:01','11 Aug 08:01','12 Aug 08:01','13 Aug 08:01','14 Aug 08:01','17 Aug 08:01','18 Aug 08:01','19 Aug 08:01','20 Aug 08:01','21 Aug 08:01'][round(datum.value/24)]","labelAlign":"left","labelBaseline":"top","labelFlush":false,"labelOverlap":false,"labelFont":"DejaVu Sans","labelFontSize":11,"labelColor":"#000000","labelPadding":3,"ticks":true,"tickSize":4,"tickColor":"#000000","domain":false,"grid":false,"title":null,"zindex":1}},
  "y":{"field":"l","type":"quantitative","scale":{"domain":[1.150509,1.172194],"nice":false,"zero":false},"axis":{"orient":"right","values":[1.1511,1.15265,1.1542,1.15575,1.1573,1.15885,1.1604,1.16195,1.1635,1.16505,1.1666,1.16815,1.17125],"format":".5f","labelFont":"DejaVu Sans","labelFontSize":10.5,"labelColor":"#000000","labelPadding":4,"ticks":true,"tickSize":3,"tickColor":"#000000","domain":false,"grid":false,"labelFlush":false,"labelOverlap":false,"title":null,"zindex":0}},
  "y2":{"field":"h"}}},
{"data":{"name":"candles"},"mark":{"type":"bar","width":2,"stroke":"#000000","strokeWidth":1},
 "encoding":{
  "x":{"field":"i","type":"quantitative","scale":{"domain":[-0.625,389.375],"nice":false,"zero":false,"padding":0},"axis":null},
  "y":{"field":"o","type":"quantitative","scale":{"domain":[1.150509,1.172194],"nice":false,"zero":false},"axis":null},
  "y2":{"field":"c"},
  "fill":{"condition":{"test":"datum.c >= datum.o","value":"#FFFFFF"},"value":"#000000"}}},
{"data":{"name":"lines"},"mark":{"type":"line","strokeWidth":2},
 "encoding":{
  "x":{"field":"i","type":"quantitative","scale":{"domain":[-0.625,389.375],"nice":false,"zero":false,"padding":0},"axis":null},
  "y":{"field":"v","type":"quantitative","scale":{"domain":[1.150509,1.172194],"nice":false,"zero":false},"axis":null},
  "color":{"field":"s","type":"nominal","scale":{"domain":["upper","lower"],"range":["#0000FF","#FF0000"]},"legend":null}}},
{"data":{"name":"levels"},"mark":{"type":"point","shape":"M-1,-0.2364L1,-0.2364L1,0.2364L-1,0.2364Z","size":3025,"filled":true,"color":"#4169E1","opacity":1,"strokeWidth":0},
 "encoding":{
  "x":{"datum":396.75,"type":"quantitative","scale":{"domain":[-0.625,389.375],"nice":false,"zero":false,"padding":0},"axis":null},
  "y":{"field":"level","type":"quantitative","scale":{"domain":[1.150509,1.172194],"nice":false,"zero":false},"axis":null}}},
{"data":{"name":"levels"},"mark":{"type":"text","align":"left","baseline":"middle","font":"DejaVu Sans","fontSize":10.5,"color":"#FFFFFF"},
 "encoding":{
  "x":{"datum":391.125,"type":"quantitative","scale":{"domain":[-0.625,389.375],"nice":false,"zero":false,"padding":0},"axis":null},
  "y":{"field":"level","type":"quantitative","scale":{"domain":[1.150509,1.172194],"nice":false,"zero":false},"axis":null},
  "text":{"field":"level","format":".5f"}}},
{"data":{"name":"last"},"mark":{"type":"point","shape":"M-1,-0.2364L1,-0.2364L1,0.2364L-1,0.2364Z","size":3025,"filled":true,"color":"#000000","opacity":1,"strokeWidth":0},
 "encoding":{
  "x":{"datum":396.75,"type":"quantitative","scale":{"domain":[-0.625,389.375],"nice":false,"zero":false,"padding":0},"axis":null},
  "y":{"field":"price","type":"quantitative","scale":{"domain":[1.150509,1.172194],"nice":false,"zero":false},"axis":null}}},
{"data":{"name":"last"},"mark":{"type":"text","align":"left","baseline":"middle","font":"DejaVu Sans","fontSize":10.5,"color":"#FFFFFF"},
 "encoding":{
  "x":{"datum":391.125,"type":"quantitative","scale":{"domain":[-0.625,389.375],"nice":false,"zero":false,"padding":0},"axis":null},
  "y":{"field":"price","type":"quantitative","scale":{"domain":[1.150509,1.172194],"nice":false,"zero":false},"axis":null},
  "text":{"field":"price","format":".5f"}}},
{"data":{"values":[{"t":"EURUSD,H1  1.16785 1.16788 1.16743 1.16771"}]},"mark":{"type":"text","align":"left","baseline":"alphabetic","font":"DejaVu Sans","fontSize":11,"color":"#000000"},
 "encoding":{
  "x":{"datum":4.375,"type":"quantitative","scale":{"domain":[-0.625,389.375],"nice":false,"zero":false,"padding":0},"axis":null},
  "y":{"datum":1.17166,"type":"quantitative","scale":{"domain":[1.150509,1.172194],"nice":false,"zero":false},"axis":null},
  "text":{"field":"t"}}},
{"data":{"values":[{"k":"menu"}]},"mark":{"type":"point","shape":"M-1,-0.55L1,-0.55L0,0.55Z","size":81,"filled":true,"color":"#000000","opacity":1,"strokeWidth":0},
 "encoding":{
  "x":{"datum":1.5,"type":"quantitative","scale":{"domain":[-0.625,389.375],"nice":false,"zero":false,"padding":0},"axis":null},
  "y":{"datum":1.171864,"type":"quantitative","scale":{"domain":[1.150509,1.172194],"nice":false,"zero":false},"axis":null}}}
]
}
